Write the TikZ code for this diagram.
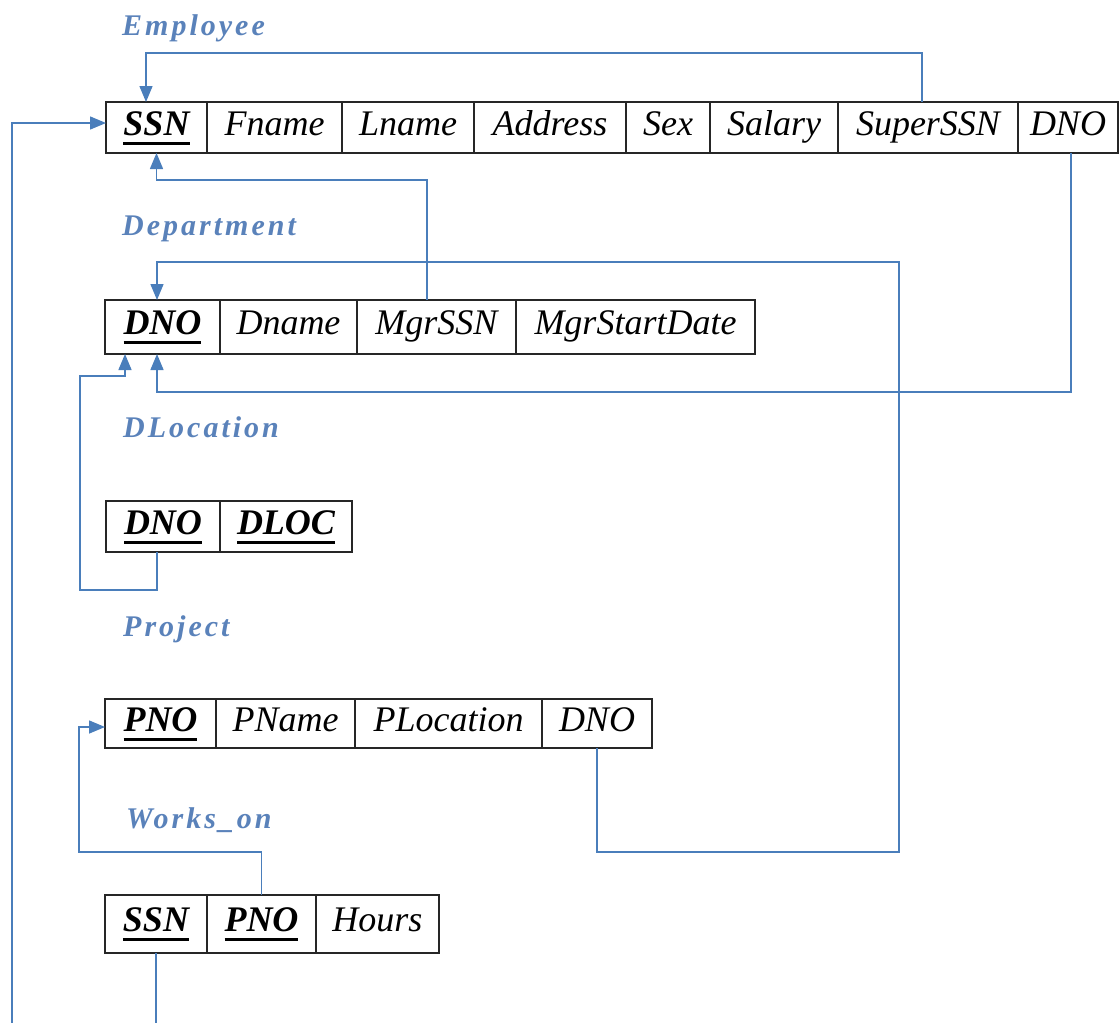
\documentclass[tikz,border=0pt]{standalone}
\usepackage{fontspec}
\setmainfont{Liberation Serif}
\newfontfamily\lblfont[LetterSpace=10]{Liberation Serif}
\usetikzlibrary{arrows.meta}
\definecolor{fkblue}{HTML}{4A7EBB}
\definecolor{lblblue}{HTML}{5A82BA}
\newcommand\keyf[1]{\sbox0{\bfseries\itshape #1}\rlap{\usebox0}\rule[-9.5pt]{\wd0}{3pt}}
\tikzset{
  cell/.style={draw=black!85, line width=1.6pt, inner sep=0pt, outer sep=0pt, anchor=west,
    text height=25pt, text depth=10pt, font=\fontsize{36}{40}\selectfont\itshape},
  lbl/.style={anchor=base west, inner sep=0pt, text=lblblue,
    font=\lblfont\fontsize{30}{32}\selectfont\bfseries\itshape},
  fk/.style={draw=fkblue, line width=1.5pt, -{Triangle[length=16pt,width=13pt]}},
  etab/.style={cell, minimum height=51pt},
  dtab/.style={cell, minimum height=54pt},
  ltab/.style={cell, minimum height=51pt},
  ptab/.style={cell, minimum height=49pt},
  wtab/.style={cell, minimum height=58pt}
}
\begin{document}
\begin{tikzpicture}[x=1pt, y=-1pt]
\useasboundingbox (0,0) rectangle (1120,1023);
\clip (0,0) rectangle (1120,1023);
% labels
\node[lbl] (lEmp) at (122,35) {Employee};
\node[lbl] (lDep) at (122,235) {Department};
\node[lbl] (lLoc) at (123,437) {DLocation};
\node[lbl] (lPrj) at (123,636) {Project};
\node[lbl] (lWrk) at (126,828) {Works\_on};
% Employee
\node[etab, minimum width=101pt] (eSSN) at (106,127.5) {\keyf{SSN}};
\node[etab, minimum width=135pt] (eFname) at (207,127.5) {Fname};
\node[etab, minimum width=132pt] (eLname) at (342,127.5) {Lname};
\node[etab, minimum width=152pt] (eAddr) at (474,127.5) {Address};
\node[etab, minimum width=84pt] (eSex) at (626,127.5) {Sex};
\node[etab, minimum width=128pt] (eSal) at (710,127.5) {Salary};
\node[etab, minimum width=180pt] (eSuper) at (838,127.5) {SuperSSN};
\node[etab, minimum width=100pt] (eDNO) at (1018,127.5) {DNO};
% Department
\node[dtab, minimum width=115pt] (dDNO) at (105,327) {\keyf{DNO}};
\node[dtab, minimum width=137pt] (dDname) at (220,327) {Dname};
\node[dtab, minimum width=159pt] (dMgr) at (357,327) {MgrSSN};
\node[dtab, minimum width=239pt] (dStart) at (516,327) {MgrStartDate};
% DLocation
\node[ltab, minimum width=114pt] (lDNO) at (106,526.5) {\keyf{DNO}};
\node[ltab, minimum width=132pt] (lDLOC) at (220,526.5) {\keyf{DLOC}};
% Project
\node[ptab, minimum width=111pt] (pPNO) at (105,723.5) {\keyf{PNO}};
\node[ptab, minimum width=139pt] (pName) at (216,723.5) {PName};
\node[ptab, minimum width=187pt] (pLoc) at (355,723.5) {PLocation};
\node[ptab, minimum width=110pt] (pDNO) at (542,723.5) {DNO};
% Works_on
\node[wtab, minimum width=102pt] (wSSN) at (105,924) {\keyf{SSN}};
\node[wtab, minimum width=109pt] (wPNO) at (207,924) {\keyf{PNO}};
\node[wtab, minimum width=123pt] (wHours) at (316,924) {Hours};
% corner coordinates
\coordinate (c3) at (12,123);
\coordinate (c7) at (79,727);
% connectors
\draw[fk] ([xshift=-6pt]eSuper.north) -- ++(0,-49) -| ([xshift=-10.5pt]eSSN.north);
\draw[fk] ([xshift=-9.5pt]dMgr.north) -- ++(0,-120) -| (eSSN.south);
\draw[fk] (wSSN.south) -- ++(0,80) -| (c3) -- ([yshift=4.5pt]eSSN.west);
\draw[fk] ([xshift=3pt]eDNO.south) -- ++(0,239) -| ([xshift=-5.5pt]dDNO.south);
\draw[fk] (pDNO.south) -- ++(0,104) -- ++(302,0) -- ++(0,-590) -| ([xshift=-5.5pt]dDNO.north);
\draw[fk] ([xshift=-6pt]lDNO.south) -- ++(0,38) -- ++(-77,0) -- ++(0,-214) -| ([xshift=-37.5pt]dDNO.south);
\draw[fk] (wPNO.north) -- ++(0,-43) -| (c7) -- ([yshift=-3.5pt]pPNO.west);
\end{tikzpicture}
\end{document}
